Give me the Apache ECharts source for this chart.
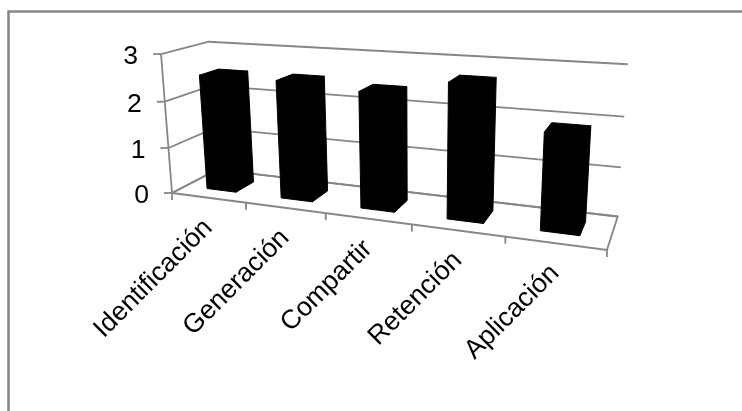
<!DOCTYPE html>
<html>
<head>
<meta charset="utf-8">
<style>html,body{margin:0;padding:0;background:#fff}#chart{width:742px;height:411px}</style>
<script src="https://cdn.jsdelivr.net/npm/echarts@6/dist/echarts.min.js"></script>
</head>
<body>
<div id="chart"></div>
<script>
const categories = ['Identificación', 'Generación', 'Compartir', 'Retención', 'Aplicación'];
const values = [2.5, 2.5, 2.4, 2.7, 1.9];
const valueTicks = [0, 1, 2, 3];

const LINE = '#868686';
const FONT = '"Liberation Sans", Arial, sans-serif';
const FONT_SIZE = 26.6;

// Perspective camera: maps (t along categories, d into the depth, s up the value axis),
// each in 0..1, onto the page.
function project(t, d, s) {
  const w = 1 - 0.18 * t + 0.09 * d - 0.043 * s;
  return [
    (172 + 325.7 * t + 64.4 * d - 17.9 * s) / w,
    (193 + 12 * t - 8 * d - 141.3 * s) / w
  ];
}

// Turns a point of the hidden cartesian grid into (t, s) for the camera.
function toUnit(params, pt) {
  const r = params.coordSys;
  return [(pt[0] - r.x) / r.width, (r.y + r.height - pt[1]) / r.height];
}

function stroke(points) {
  return {
    type: 'polyline',
    shape: { points },
    style: { stroke: LINE, lineWidth: 1.8, fill: null }
  };
}

function renderFrame() {
  return {
    type: 'group',
    children: [
      stroke([project(0, 0, 0), project(0, 1, 0), project(1, 1, 0), project(1, 0, 0), project(0, 0, 0)]),
      stroke([project(0, 0, 0), project(0, 0, 1)])
    ]
  };
}

function renderValueTick(params, api) {
  const v = api.value(1);
  const s = toUnit(params, api.coord([0, v]))[1];
  const front = project(0, 0, s);
  return {
    type: 'group',
    children: [
      stroke([front, project(0, 1, s), project(1, 1, s)]),
      stroke([[front[0] - 8, front[1]], front]),
      {
        type: 'text',
        x: front[0] - 23,
        y: front[1] + 3,
        style: { text: String(v), align: 'right', verticalAlign: 'middle', fontFamily: FONT, fontSize: FONT_SIZE, fill: '#000' }
      }
    ]
  };
}

function renderCategory(params, api) {
  const i = api.value(0);
  const center = api.coord([i, 0]);
  const band = api.size([1, 0])[0];
  const r = params.coordSys;
  const t0 = (center[0] - band / 2 - r.x) / r.width;
  const tMid = (center[0] - r.x) / r.width;
  const children = [];
  const tick = project(t0, 0, 0);
  children.push(stroke([tick, [tick[0], tick[1] + 7]]));
  if (i === categories.length - 1) {
    const last = project(1, 0, 0);
    children.push(stroke([last, [last[0], last[1] + 7]]));
  }
  const anchor = project(tMid, 0, 0);
  children.push({
    type: 'text',
    x: anchor[0],
    y: anchor[1] + 26,
    rotation: Math.PI / 4,
    style: { text: categories[i], align: 'right', verticalAlign: 'middle', fontFamily: FONT, fontSize: FONT_SIZE, fill: '#000' }
  });
  return { type: 'group', children };
}

function renderBar(params, api) {
  const i = api.value(0);
  const v = api.value(1);
  const center = api.coord([i, v]);
  const band = api.size([1, 0])[0];
  const [, s] = toUnit(params, center);
  const r = params.coordSys;
  const t0 = (center[0] - band * 0.2 - r.x) / r.width;
  const t1 = (center[0] + band * 0.2 - r.x) / r.width;
  const d0 = 0.29, d1 = 0.71;
  const faces = [
    [project(t0, d0, 0), project(t1, d0, 0), project(t1, d0, s), project(t0, d0, s)],
    [project(t1, d0, 0), project(t1, d1, 0), project(t1, d1, s), project(t1, d0, s)],
    [project(t0, d0, s), project(t1, d0, s), project(t1, d1, s), project(t0, d1, s)]
  ];
  return {
    type: 'group',
    children: faces.map(points => ({
      type: 'polygon',
      shape: { points },
      style: { fill: '#000', stroke: '#000', lineWidth: 1, lineJoin: 'round' }
    }))
  };
}

const chart = echarts.init(document.getElementById('chart'), null, { renderer: 'canvas' });
chart.setOption({
  animation: false,
  backgroundColor: '#fff',
  grid: { left: 0, right: 0, top: 0, bottom: 0 },
  xAxis: { type: 'category', data: categories, show: false },
  yAxis: { type: 'value', min: 0, max: 3, interval: 1, show: false },
  graphic: [{
    type: 'polyline',
    silent: true,
    shape: { points: [[8.5, 411], [8.5, 11.5], [742, 11.5]] },
    style: { stroke: LINE, lineWidth: 2.5, fill: null }
  }],
  series: [
    { type: 'custom', silent: true, z: 2, data: [[0, 0]], renderItem: renderFrame },
    { type: 'custom', silent: true, z: 2, data: valueTicks.map(v => [0, v]), renderItem: renderValueTick },
    { type: 'custom', silent: true, z: 2, data: categories.map((c, i) => [i, 0]), renderItem: renderCategory },
    { type: 'custom', silent: true, z: 3, data: values.map((v, i) => [i, v]), renderItem: renderBar }
  ]
});
</script>
</body>
</html>
